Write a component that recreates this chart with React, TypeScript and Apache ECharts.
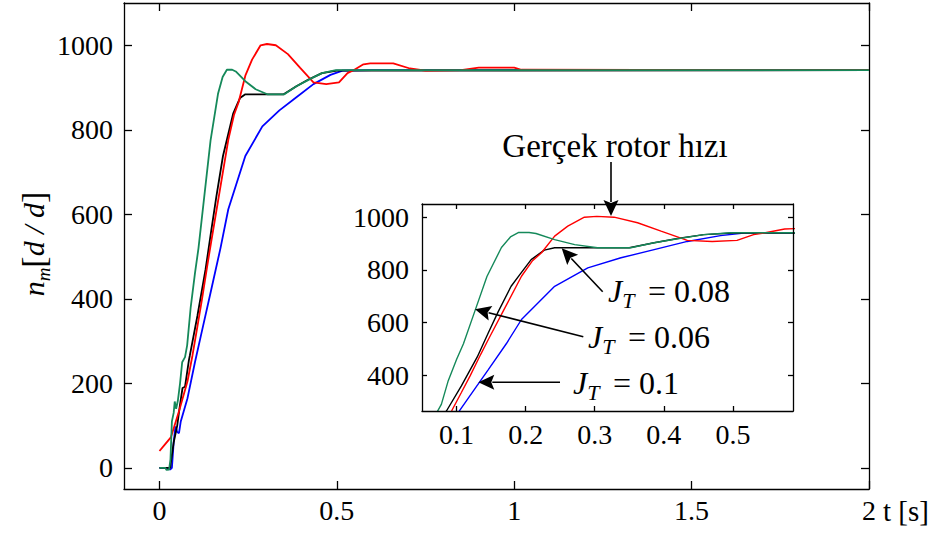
import React, { useEffect, useRef } from 'react';
import * as echarts from 'echarts';

const FONT = 'Liberation Serif';

// Tick values
const mainXTicks = [0, 0.5, 1, 1.5, 2];
const mainYTicks = [0, 200, 400, 600, 800, 1000];
const insetXTicks = [0.1, 0.2, 0.3, 0.4, 0.5];
const insetYTicks = [400, 600, 800, 1000];

// Series data: [t (s), n_m (d/d)]
const blueJT01: [number, number][] = [
  [0, 0], [0.025, 0], [0.03, -4], [0.035, 0], [0.04, 60], [0.045, 98], [0.05, 85], [0.055, 82],
  [0.06, 110], [0.079, 165], [0.1, 250], [0.116, 310], [0.146, 422], [0.172, 520], [0.194, 612],
  [0.242, 738], [0.29, 808], [0.338, 846], [0.386, 877], [0.434, 908], [0.482, 930], [0.516, 940],
  [0.6, 941], [2, 941],
];
const blackJT008: [number, number][] = [
  [0, 0], [0.03, 0], [0.035, 30], [0.04, 60], [0.05, 100], [0.058, 150], [0.065, 189], [0.072, 192],
  [0.083, 255], [0.0856, 266], [0.107, 360], [0.13, 470], [0.1457, 560], [0.16, 640], [0.179, 738],
  [0.191, 780], [0.208, 839], [0.219, 860], [0.227, 875], [0.242, 884], [0.35, 884], [0.386, 903],
  [0.42, 919], [0.458, 934], [0.5, 940], [2, 941],
];
const redRotor: [number, number][] = [
  [0, 40], [0.015, 55], [0.032, 72], [0.055, 134], [0.079, 205], [0.093, 266], [0.107, 335],
  [0.12, 400], [0.135, 480], [0.146, 536], [0.17, 656], [0.194, 776], [0.21, 835], [0.223, 865],
  [0.242, 928], [0.261, 966], [0.285, 1000], [0.303, 1003], [0.328, 1000], [0.362, 979],
  [0.396, 947], [0.434, 912], [0.47, 908], [0.506, 912], [0.53, 934], [0.547, 941], [0.575, 955],
  [0.594, 957], [0.659, 957], [0.706, 945], [0.75, 940], [0.85, 941], [0.9, 947], [1.0, 947],
  [1.02, 942], [2, 941],
];
const greenJT006: [number, number][] = [
  [0, 0], [0.016, 0], [0.02, -5], [0.027, -4], [0.031, 20], [0.035, 110], [0.04, 130], [0.043, 157],
  [0.047, 140], [0.052, 160], [0.058, 200], [0.064, 250], [0.072, 262], [0.078, 290], [0.088, 380],
  [0.1, 460], [0.11, 520], [0.126, 640], [0.144, 775], [0.165, 885], [0.178, 925], [0.19, 942],
  [0.205, 942], [0.215, 938], [0.242, 915], [0.271, 896], [0.304, 884], [0.352, 884], [0.386, 903],
  [0.42, 918], [0.458, 934], [0.497, 941], [0.6, 941], [2, 941],
];

const curves = [
  { name: 'J_T = 0.1', data: blueJT01, color: '#0000ff' },
  { name: 'J_T = 0.08', data: blackJT008, color: '#000000' },
  { name: 'Gerçek rotor hızı', data: redRotor, color: '#ff0000' },
  { name: 'J_T = 0.06', data: greenJT006, color: '#15895a' },
];

function arrow(x1: number, y1: number, x2: number, y2: number, headLen = 16, headW = 7.5) {
  const dx = x2 - x1, dy = y2 - y1;
  const L = Math.hypot(dx, dy);
  const ux = dx / L, uy = dy / L;
  const bx = x2 - ux * headLen, by = y2 - uy * headLen;
  const px = -uy, py = ux;
  return [
    { type: 'line', shape: { x1, y1, x2: bx + ux * 2, y2: by + uy * 2 }, style: { stroke: '#000', lineWidth: 1.6 }, z: 50 },
    {
      type: 'polygon',
      shape: { points: [[x2, y2], [bx + px * headW, by + py * headW], [bx + ux * 3, by + uy * 3], [bx - px * headW, by - py * headW]] },
      style: { fill: '#000' }, z: 50,
    },
  ];
}

function jLabel(x: number, y: number, value: string) {
  return [
    {
      type: 'text', x, y, z: 50,
      style: {
        text: '{j|J}{t|T}', align: 'left', verticalAlign: 'middle', fontFamily: FONT,
        rich: {
          j: { fontFamily: FONT, fontStyle: 'italic', fontSize: 32, lineHeight: 40, fill: '#000' },
          t: { fontFamily: FONT, fontStyle: 'italic', fontSize: 22, lineHeight: 22, verticalAlign: 'bottom', fill: '#000' },
        },
      },
    },
    {
      type: 'text', x: x + 40, y, z: 50,
      style: { text: '= ' + value, fontFamily: FONT, fontSize: 32, fill: '#000', align: 'left', verticalAlign: 'middle' },
    },
  ];
}

export default function App() {
  const ref = useRef<HTMLDivElement>(null);
  useEffect(() => {
    if (!ref.current) return;
    const chart = echarts.init(ref.current, undefined, { renderer: 'svg' });
    const axisLine = { show: true, onZero: false, lineStyle: { color: '#000', width: 1.3 } };
    const labelStyle = { color: '#000', fontFamily: FONT, fontSize: 28, lineHeight: 28 };
    const fmt = (v: number) => String(v);
    const series: any[] = [];
    curves.forEach((c, i) => {
      series.push({
        type: 'line', name: c.name, data: c.data, xAxisIndex: 0, yAxisIndex: 0,
        showSymbol: false, symbol: 'none', lineStyle: { color: c.color, width: 1.8 }, z: 2 + i * 0.1,
      });
    });
    curves.forEach((c, i) => {
      series.push({
        type: 'line', name: c.name + ' (inset)', data: c.data, xAxisIndex: 2, yAxisIndex: 2,
        showSymbol: false, symbol: 'none', lineStyle: { color: c.color, width: 1.4 }, z: 10 + i * 0.1, clip: true,
      });
    });
    const tick = (len: number, vals: number[]) => ({
      show: true, inside: true, length: len, customValues: vals, lineStyle: { color: '#000', width: 1.3 },
    });
    const option: any = {
      animation: false,
      backgroundColor: '#fff',
      grid: [
        { left: 124, top: 3, width: 745, height: 486, show: false },
        { left: 422, top: 204, width: 371, height: 207, show: true, backgroundColor: '#fff', borderWidth: 0, z: 5 },
      ],
      xAxis: [
        {
          type: 'value', gridIndex: 0, position: 'bottom', min: -0.1, max: 2,
          axisLine, splitLine: { show: false }, axisTick: tick(8, mainXTicks),
          axisLabel: { ...labelStyle, margin: 7, customValues: mainXTicks, formatter: fmt },
        },
        {
          type: 'value', gridIndex: 0, position: 'top', min: -0.1, max: 2,
          axisLine, splitLine: { show: false }, axisTick: tick(8, mainXTicks),
          axisLabel: { show: false },
        },
        {
          type: 'value', gridIndex: 1, position: 'bottom', min: 0.05, max: 0.587, z: 12,
          axisLine, splitLine: { show: false }, axisTick: tick(5, insetXTicks),
          axisLabel: { ...labelStyle, margin: 9, customValues: insetXTicks, formatter: fmt },
        },
        {
          type: 'value', gridIndex: 1, position: 'top', min: 0.05, max: 0.587, z: 12,
          axisLine, splitLine: { show: false }, axisTick: tick(5, insetXTicks),
          axisLabel: { show: false },
        },
      ],
      yAxis: [
        {
          type: 'value', gridIndex: 0, position: 'left', min: -50, max: 1100,
          axisLine, splitLine: { show: false }, axisTick: tick(8, mainYTicks),
          axisLabel: { ...labelStyle, margin: 11, customValues: mainYTicks, formatter: fmt },
        },
        {
          type: 'value', gridIndex: 0, position: 'right', min: -50, max: 1100,
          axisLine, splitLine: { show: false }, axisTick: tick(8, mainYTicks),
          axisLabel: { show: false },
        },
        {
          type: 'value', gridIndex: 1, position: 'left', min: 265, max: 1050, z: 12,
          axisLine, splitLine: { show: false }, axisTick: tick(5, insetYTicks),
          axisLabel: { ...labelStyle, margin: 13, customValues: insetYTicks, formatter: fmt },
        },
        {
          type: 'value', gridIndex: 1, position: 'right', min: 265, max: 1050, z: 12,
          axisLine, splitLine: { show: false }, axisTick: tick(5, insetYTicks),
          axisLabel: { show: false },
        },
      ],
      series,
      graphic: [
        {
          type: 'text', x: 33, y: 244, rotation: Math.PI / 2, z: 50,
          style: {
            text: '{n|n}{m|m}{b|[}{d|d / d}{b|]}', align: 'center', verticalAlign: 'middle', fontFamily: FONT,
            rich: {
              n: { fontFamily: FONT, fontStyle: 'italic', fontSize: 30, lineHeight: 40, fill: '#000' },
              m: { fontFamily: FONT, fontStyle: 'italic', fontSize: 19, lineHeight: 19, verticalAlign: 'bottom', fill: '#000' },
              b: { fontFamily: FONT, fontSize: 34, lineHeight: 40, fill: '#000' },
              d: { fontFamily: FONT, fontStyle: 'italic', fontSize: 30, lineHeight: 40, fill: '#000' },
            },
          },
        },
        {
          type: 'text', x: 883, y: 511, z: 50,
          style: { text: 't [s]', fontFamily: FONT, fontSize: 29, fill: '#000', align: 'left', verticalAlign: 'middle' },
        },
        {
          type: 'text', x: 615, y: 146, z: 50,
          style: { text: 'Gerçek rotor hızı', fontFamily: FONT, fontSize: 33, fill: '#000', align: 'center', verticalAlign: 'middle' },
        },
        ...arrow(611, 162, 611, 216),
        ...arrow(602.7, 291.7, 561.7, 248.3),
        ...arrow(583.3, 336.7, 475, 309.3),
        ...arrow(560, 382.3, 478.3, 382.3),
        ...jLabel(608, 291, '0.08'),
        ...jLabel(588, 337, '0.06'),
        ...jLabel(573, 383, '0.1'),
      ],
    };
    chart.setOption(option);
    return () => chart.dispose();
  }, []);
  return <div ref={ref} style={{ position: 'absolute', left: 0, top: 0, width: 948, height: 535 }} />;
}
